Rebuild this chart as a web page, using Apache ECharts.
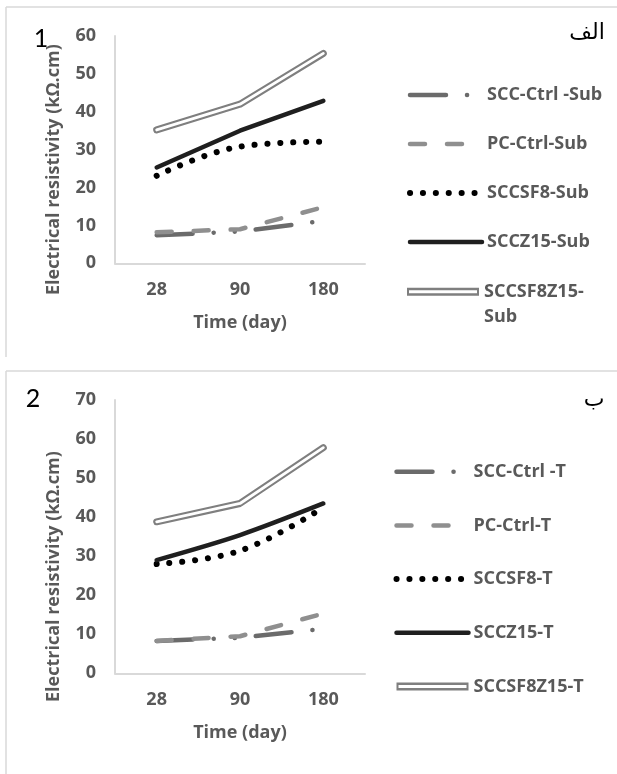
<!DOCTYPE html>
<html>
<head>
<meta charset="utf-8">
<script src="https://cdn.jsdelivr.net/npm/echarts@6/dist/echarts.min.js"></script>
<style>
  html, body { margin: 0; padding: 0; background: #fff; }
  #chart { width: 617px; height: 774px; }
</style>
</head>
<body>
<div id="chart"></div>
<script>
// data
const days = ['28', '90', '180']
const ticksTop = [0, 10, 20, 30, 40, 50, 60]
const ticksBottom = [0, 10, 20, 30, 40, 50, 60, 70]

const namesSub = ['SCC-Ctrl -Sub', 'PC-Ctrl-Sub', 'SCCSF8-Sub', 'SCCZ15-Sub', 'SCCSF8Z15-Sub']
const sccCtrlSub = [7.4, 8.4, 11.2]
const pcCtrlSub = [8.2, 9.0, 14.8]
const sccsf8Sub = [23.1, 30.8, 32.1]
const sccz15Sub = [25.3, 35.0, 42.9]
const sccsf8z15Sub = [35.2, 42.0, 55.4]

const namesT = ['SCC-Ctrl -T', 'PC-Ctrl-T', 'SCCSF8-T', 'SCCZ15-T', 'SCCSF8Z15-T']
const sccCtrlT = [8.3, 9.1, 11.4]
const pcCtrlT = [8.3, 9.5, 15.3]
const sccsf8T = [28.0, 31.4, 42.5]
const sccz15T = [29.0, 35.4, 43.5]
const sccsf8z15T = [38.8, 43.5, 57.8]

const FONT = '"Open Sans"'
const TXT = '#595959'

// line looks, same order as the names
const looks = [
  { color: '#6b6b6b', width: 4.5, type: [36, 21, 0.1, 21, 0.1, 21], cap: 'round' },
  { color: '#8f8f8f', width: 4.5, type: [15, 22], cap: 'round' },
  { color: '#000000', width: 6, type: [0.1, 12.8], cap: 'round' },
  { color: '#1f1f1f', width: 4.5, type: 'solid', cap: 'round' },
  { color: '#7f7f7f', width: 7, type: 'solid', cap: 'round' }
]
const smoothing = [[0, 0, 0.4, 0, 0], [0, 0, 0.4, 0.3, 0]]

const buildSeries = (names, values, gi) => {
  const out = []
  names.forEach((name, i) => {
    const lk = looks[i]
    out.push({
      name: name,
      type: 'line',
      xAxisIndex: gi,
      yAxisIndex: gi,
      data: values[i],
      symbol: 'none',
      smooth: smoothing[gi][i],
      itemStyle: { color: lk.color },
      lineStyle: { color: lk.color, width: lk.width, type: lk.type, cap: lk.cap, join: 'round' },
      z: 2 + i
    })
  })
  // white core of the double line
  out.push({
    name: names[4] + ' core',
    type: 'line',
    xAxisIndex: gi,
    yAxisIndex: gi,
    data: values[4],
    symbol: 'none',
    lineStyle: { color: '#ffffff', width: 2.8, cap: 'round', join: 'round' },
    z: 8
  })
  return out
}

const legendItem = (name, i) => {
  const lk = looks[i]
  if (i === 4) {
    return {
      name: name,
      icon: 'path://M0,0L72,0L72,7L0,7Z M2,2.2L2,4.8L70,4.8L70,2.2Z',
      itemStyle: { color: lk.color, borderWidth: 0 }
    }
  }
  return {
    name: name,
    // hide the little circle echarts puts in the middle of a line icon
    itemStyle: { color: 'rgba(0,0,0,0)', borderWidth: 0, opacity: 0 },
    lineStyle: { color: lk.color, width: lk.width, type: lk.type, cap: lk.cap }
  }
}

const labelStyle = { color: TXT, fontFamily: FONT, fontWeight: 'bold', fontSize: 18 }

const xAxisOf = (gi) => ({
  type: 'category',
  gridIndex: gi,
  data: days,
  axisLine: { lineStyle: { color: '#d9d9d9', width: 2 } },
  axisTick: { show: false },
  axisLabel: Object.assign({ margin: 18 }, labelStyle),
  name: 'Time (day)',
  nameLocation: 'middle',
  nameGap: 51,
  nameTextStyle: Object.assign({}, labelStyle)
})

const yAxisOf = (gi, ticks, shift) => ({
  type: 'value',
  gridIndex: gi,
  min: ticks[0],
  max: ticks[ticks.length - 1],
  interval: ticks[1] - ticks[0],
  axisLine: { show: true, lineStyle: { color: '#d9d9d9', width: 2 } },
  axisTick: { show: false },
  splitLine: { show: false },
  axisLabel: Object.assign({ margin: 19 }, labelStyle),
  name: 'Electrical resistivity (kΩ.cm)',
  nameLocation: 'middle',
  nameGap: 52,
  nameTextStyle: Object.assign({ padding: [0, shift, 0, 0] }, labelStyle)
})

const legendText = Object.assign({ lineHeight: 18 }, labelStyle)
const legendBase = {
  orient: 'vertical',
  padding: 0,
  itemWidth: 72,
  itemHeight: 8,
  itemGap: 31,
  symbolKeepAspect: false,
  selectedMode: false,
  textStyle: legendText
}

const chart = echarts.init(document.getElementById('chart'))

const option = {
  backgroundColor: '#ffffff',
  animation: false,
  grid: [
    { left: 115, top: 36, width: 250, height: 227.3, outerBoundsMode: 'none' },
    { left: 115, top: 400, width: 250, height: 273.3, outerBoundsMode: 'none' }
  ],
  xAxis: [xAxisOf(0), xAxisOf(1)],
  yAxis: [yAxisOf(0, ticksTop, 40), yAxisOf(1, ticksBottom, 80)],
  legend: [
    Object.assign({}, legendBase, {
      left: 407, top: 86,
      data: namesSub.slice(0, 4).map(legendItem)
    }),
    Object.assign({}, legendBase, {
      left: 407, top: 254.2,
      data: [legendItem(namesSub[4], 4)],
      // empty first line keeps the first real line level with the icon
      formatter: () => '\nSCCSF8Z15-\nSub',
      textStyle: Object.assign({}, legendText, { lineHeight: 25 })
    }),
    Object.assign({}, legendBase, {
      left: 393.5, top: 462.7,
      itemGap: 35.7,
      data: namesT.map(legendItem)
    })
  ],
  graphic: [
    { type: 'line', shape: { x1: 6, y1: 7, x2: 617, y2: 7 }, style: { stroke: '#d9d9d9', lineWidth: 1.5 } },
    { type: 'line', shape: { x1: 6, y1: 7, x2: 6, y2: 357 }, style: { stroke: '#d9d9d9', lineWidth: 1.5 } },
    { type: 'line', shape: { x1: 6, y1: 371, x2: 617, y2: 371 }, style: { stroke: '#d9d9d9', lineWidth: 1.5 } },
    { type: 'line', shape: { x1: 6, y1: 371, x2: 6, y2: 774 }, style: { stroke: '#d9d9d9', lineWidth: 1.5 } },
    { type: 'text', x: 41, y: 39, style: { text: '1', font: '25px Lato', fill: '#000', align: 'center', verticalAlign: 'middle' } },
    { type: 'text', x: 33, y: 399, style: { text: '2', font: '25px Lato', fill: '#000', align: 'center', verticalAlign: 'middle' } },
    { type: 'text', x: 587, y: 33, style: { text: 'الف', font: '22px "DejaVu Sans"', fill: '#000', align: 'center', verticalAlign: 'middle' } },
    { type: 'text', x: 594, y: 400, style: { text: 'ب', font: '22px "DejaVu Sans"', fill: '#000', align: 'center', verticalAlign: 'middle' } }
  ],
  series: [].concat(
    buildSeries(namesSub, [sccCtrlSub, pcCtrlSub, sccsf8Sub, sccz15Sub, sccsf8z15Sub], 0),
    buildSeries(namesT, [sccCtrlT, pcCtrlT, sccsf8T, sccz15T, sccsf8z15T], 1)
  )
}

chart.setOption(option)

window.addEventListener('resize', () => chart.resize())
</script>
</body>
</html>
